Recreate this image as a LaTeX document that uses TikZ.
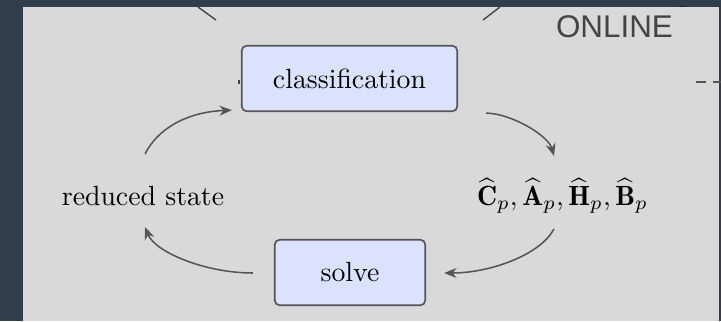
\documentclass[tikz,border=0pt]{standalone}
\usepackage{fontspec}
\newfontfamily\onlinefont{Liberation Sans}
\usetikzlibrary{arrows.meta}
\definecolor{bgdark}{RGB}{47,62,74}
\definecolor{panel}{RGB}{217,217,217}
\definecolor{boxfill}{RGB}{219,226,255}
\definecolor{boxedge}{RGB}{85,85,85}
\definecolor{arrowc}{RGB}{85,85,85}
\definecolor{textgray}{RGB}{68,68,68}
\begin{document}
\begin{tikzpicture}[x=0.36pt,y=-0.36pt,
  stepbox/.style={draw=boxedge,line width=0.6pt,fill=boxfill,rounded corners=1.8pt,
    minimum height=23.6pt,inner sep=0pt,font=\fontsize{10pt}{12pt}\selectfont},
  lbl/.style={inner sep=0pt,anchor=base,font=\fontsize{10pt}{12pt}\selectfont},
  arr/.style={draw=arrowc,line width=0.55pt,-{Stealth[length=4.5pt,width=3.6pt]}},
  frag/.style={draw=textgray,line width=0.5pt},
]
\useasboundingbox (0,0) rectangle (721,321);
\fill[bgdark] (0,0) rectangle (721,321);
\fill[panel] (23,7) rectangle (719,321);

% fragments of the surrounding picture
\coordinate (l1a) at (198,7);  \coordinate (l1b) at (216,20);
\coordinate (l2a) at (500,7);  \coordinate (l2b) at (483,20);
\draw[frag] (l1a) -- (l1b);
\draw[frag] (l2a) -- (l2b);
\coordinate (d1) at (694,82); \coordinate (d2) at (721,82);
\draw[draw=arrowc,line width=0.8pt,dash pattern=on 3.6pt off 2.5pt,dash phase=-0.7pt] (d1) -- (d2);
\coordinate (t1) at (679,6.5); \coordinate (t2) at (686,6.5);
\draw[draw=black!85,line width=0.4pt] (t1) -- (t2);
\coordinate (k1) at (239,80); \coordinate (k2) at (239,84);
\draw[draw=textgray,line width=0.6pt] (k1) -- (k2);

\node[inner sep=0pt,anchor=base west,text=textgray,font=\onlinefont\fontsize{11.3pt}{13pt}\selectfont] (online) at (555.5,37) {ONLINE};

% main nodes
\node[stepbox,minimum width=77.6pt] (cls) at (349.5,78.5) {classification};
\node[stepbox,minimum width=54.2pt] (solve) at (350,272.5) {solve};
\node[lbl] (rs) at (143,205.5) {reduced state};
\node[lbl] (mats) at (562.5,205.5) {$\widehat{\mathbf{C}}_p, \widehat{\mathbf{A}}_p, \widehat{\mathbf{H}}_p, \widehat{\mathbf{B}}_p$};

% connectors
\draw[arr] ([shift={(2,-51.5)}]rs.base) .. controls +(12,-24) and +(-47,2) .. ([shift={(-9,-2)}]cls.south west);
\draw[arr] ([shift={(28,1)}]cls.south east) .. controls +(24,0) and +(-6,-21) .. ([shift={(-8.5,-49.5)}]mats.base);
\draw[arr] ([shift={(-8.5,23.5)}]mats.base) .. controls +(-14,26) and +(46,0) .. ([shift={(18,0.5)}]solve.east);
\draw[arr] ([shift={(-21,0.5)}]solve.west) .. controls +(-48,0) and +(10,25) .. ([shift={(2,21.5)}]rs.base);
\end{tikzpicture}
\end{document}
